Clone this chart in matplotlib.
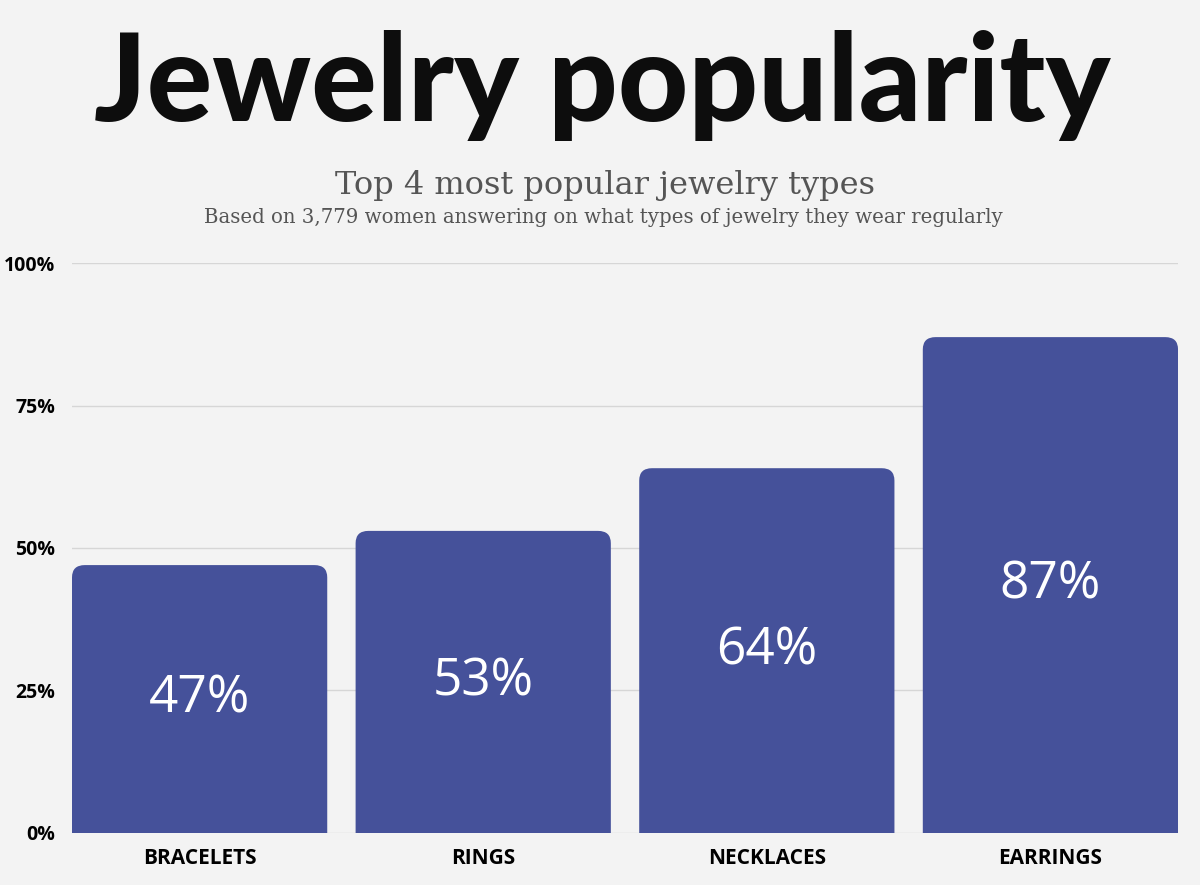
import matplotlib
matplotlib.use("Agg")
from matplotlib import pyplot as plt
from matplotlib.patches import FancyBboxPatch

categories = ["BRACELETS", "RINGS", "NECKLACES", "EARRINGS"]
values = [47, 53, 64, 87]
yticks = [0, 25, 50, 75, 100]
ytick_labels = ["0%", "25%", "50%", "75%", "100%"]

title = "Jewelry popularity"
subtitle = "Top 4 most popular jewelry types"
note = "Based on 3,779 women answering on what types of jewelry they wear regularly"

bar_color = "#45519a"
bg = "#f3f3f3"


def main():
    fig = plt.figure(figsize=(12, 8.85), dpi=100, facecolor=bg)
    ax = fig.add_axes([0.06, 0.0588, 0.9217, 0.644])
    ax.set_facecolor(bg)

    x = range(len(categories))
    bars = ax.bar(x, values, width=0.9, color="none")
    ax.set_xlim(-0.45, len(categories) - 0.55)
    ax.set_ylim(0, 100)

    # rounded tops; the box starts below 0 so the axes clip gives square bottoms
    for b, v in zip(bars, values):
        x0, w = b.get_x(), b.get_width()
        ax.add_patch(FancyBboxPatch((x0, -5), w, v + 5,
                                    boxstyle="round,pad=0,rounding_size=0.045",
                                    mutation_aspect=48, fc=bar_color, ec="none",
                                    zorder=3))
        ax.text(x0 + w / 2, v / 2, f"{v}%", ha="center", va="center",
                color="white", fontsize=37, family="Open Sans", zorder=4)

    ax.set_yticks(yticks)
    ax.set_yticklabels(ytick_labels, family="Open Sans", fontweight="bold", fontsize=14)
    ax.set_xticks(list(x))
    ax.set_xticklabels(categories, family="Open Sans", fontweight="bold", fontsize=15)
    ax.tick_params(axis="y", length=0, pad=12)
    ax.tick_params(axis="x", length=0, pad=11)
    ax.grid(axis="y", color="#d6d6d6", lw=1)
    ax.set_axisbelow(True)
    for s in ax.spines.values():
        s.set_visible(False)

    fig.text(0.502, 0.903, title, ha="center", va="center", fontsize=88,
             family="Lato", fontweight="black", color="#0d0d0d")
    fig.text(0.504, 0.79, subtitle, ha="center", va="center", fontsize=23,
             family="DejaVu Serif", color="#555555")
    fig.text(0.503, 0.754, note, ha="center", va="center", fontsize=14.2,
             family="DejaVu Serif", color="#555555")

    fig.savefig("out.png", dpi=100, facecolor=bg)


if __name__ == "__main__":
    main()
